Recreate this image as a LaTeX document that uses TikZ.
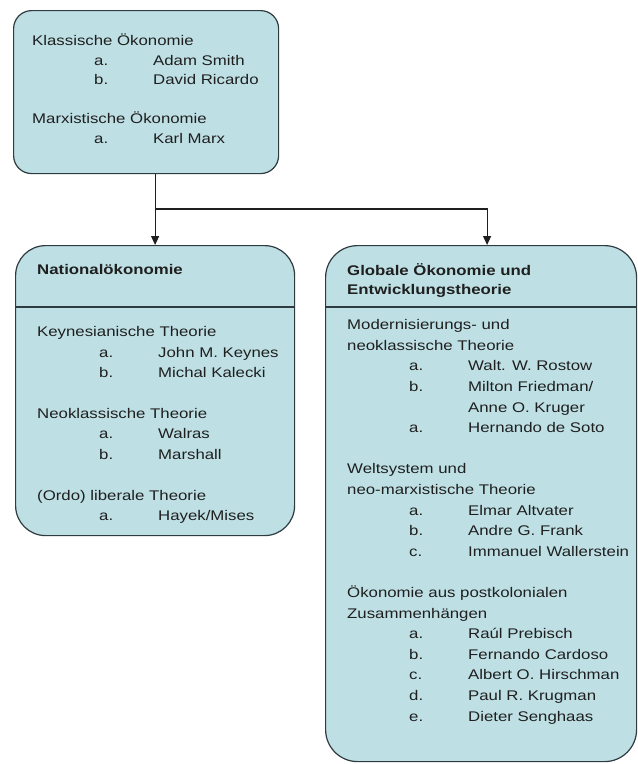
\documentclass[tikz,border=0pt]{standalone}
\usepackage{fontspec}
\setmainfont{Liberation Sans}[FakeStretch=1.2]
\usetikzlibrary{arrows.meta}
\definecolor{boxfill}{HTML}{BEE0E5}
\definecolor{boxline}{HTML}{2E3B40}
\definecolor{ink}{HTML}{1F1F1F}
% list entry: indented label, then the name in its own column
\newcommand\entry[2]{\hspace*{62pt}\makebox[59pt][l]{#1}#2}
\begin{document}
\begin{tikzpicture}[x=1pt,y=-1pt,
  panel/.style={draw=boxline, fill=boxfill, line width=1.2pt, inner sep=0pt, anchor=north west},
  txt/.style={anchor=mid west, inner sep=0pt, text=ink, font=\fontsize{14}{17}\selectfont},
  head/.style={txt, font=\fontsize{14}{17}\selectfont\bfseries},
  rule/.style={draw=boxline, line width=1.2pt},
  link/.style={draw=ink, line width=1.2pt},
  tip/.style={-{Triangle[length=9pt,width=8pt]}}]
\useasboundingbox (0,0) rectangle (638,764);

% the three panels
\node[panel, minimum width=265pt, minimum height=163pt, rounded corners=18pt] (schools) at (13,10) {};
\node[panel, minimum width=279pt, minimum height=290pt, rounded corners=30pt] (national) at (15,245) {};
\node[panel, minimum width=311pt, minimum height=516pt, rounded corners=32pt] (global) at (325,245) {};

% header rules
\coordinate (ruleY) at (0,307);
\draw[rule] (national.west |- ruleY) -- (national.east |- ruleY);
\draw[rule] (global.west |- ruleY) -- (global.east |- ruleY);

% classical and Marxist schools
\foreach \ya/\words [count=\i] in {
  43/{Klassische Ökonomie},
  62.5/{\entry{a.}{Adam Smith}},
  82/{\entry{b.}{David Ricardo}},
  121/{Marxistische Ökonomie},
  140.5/{\entry{a.}{Karl Marx}}}
  \node[txt] (s\i) at (32,\ya) {\words};

% national economics
\node[head] (nhead) at (37,272) {Nationalökonomie};
\foreach \ya/\words [count=\i] in {
  334/{Keynesianische Theorie},
  354.5/{\entry{a.}{John M. Keynes}},
  375/{\entry{b.}{Michal Kalecki}},
  415.5/{Neoklassische Theorie},
  436/{\entry{a.}{Walras}},
  456.5/{\entry{b.}{Marshall}},
  497.5/{(Ordo) liberale Theorie},
  518/{\entry{a.}{Hayek/Mises}}}
  \node[txt] (n\i) at (37,\ya) {\words};

% global economics and development theory
\node[head] (ghead1) at (347,273) {Globale Ökonomie und};
\node[head] (ghead2) at (347,292) {Entwicklungstheorie};
\foreach \ya/\words [count=\i] in {
  327/{Modernisierungs- und},
  347.6/{neoklassische Theorie},
  368.2/{\entry{a.}{Walt. W. Rostow}},
  388.8/{\entry{b.}{Milton Friedman/}},
  409.4/{\entry{}{Anne O. Kruger}},
  430/{\entry{a.}{Hernando de Soto}},
  471.2/{Weltsystem und},
  491.8/{neo-marxistische Theorie},
  512.4/{\entry{a.}{Elmar Altvater}},
  533/{\entry{b.}{Andre G. Frank}},
  553.6/{\entry{c.}{Immanuel Wallerstein}},
  594.8/{Ökonomie aus postkolonialen},
  615.4/{Zusammenhängen},
  636/{\entry{a.}{Raúl Prebisch}},
  656.6/{\entry{b.}{Fernando Cardoso}},
  677.2/{\entry{c.}{Albert O. Hirschman}},
  697.8/{\entry{d.}{Paul R. Krugman}},
  718.4/{\entry{e.}{Dieter Senghaas}}}
  \node[txt] (g\i) at (347,\ya) {\words};

% connectors
\coordinate (forkY) at (0,209);
\coordinate (fork) at (national.north |- forkY);
\draw[link, tip] (schools.south -| fork) -- (national.north);
\draw[link, tip] (fork) -| ([xshift=6pt]global.north);
\end{tikzpicture}
\end{document}
